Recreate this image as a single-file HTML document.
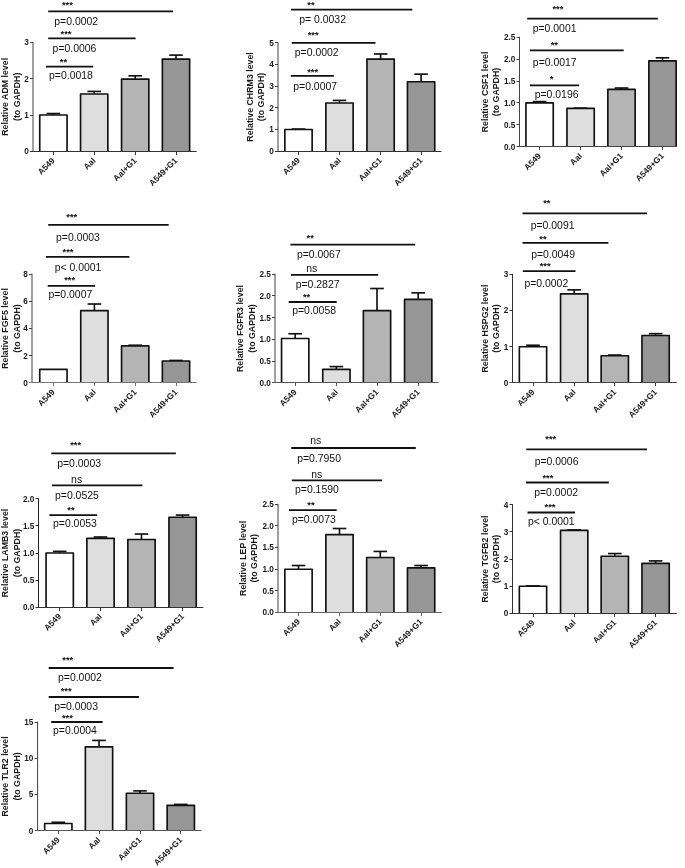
<!DOCTYPE html>
<html><head><meta charset="utf-8"><title>Relative expression levels</title>
<style>
html,body{margin:0;padding:0;background:#fff;}
body{width:685px;height:868px;overflow:hidden;}
svg{display:block;will-change:transform;}
text{font-family:"Liberation Sans",sans-serif;fill:#1a1a1a;}
.pv{font-size:10.45px;text-anchor:middle;fill:#111;}
.ns{font-size:10.45px;text-anchor:middle;fill:#111;}
.st{font-size:9.4px;font-weight:bold;text-anchor:middle;fill:#111;}
.tk{font-size:8.2px;font-weight:bold;text-anchor:end;}
.yl{font-size:8.8px;font-weight:bold;text-anchor:middle;}
.xl{font-size:8.4px;font-weight:bold;text-anchor:end;}
.cl{stroke:#111;stroke-width:1.8;}
.bar{stroke:#111;stroke-width:1.65;stroke-linejoin:round;}
.eb{stroke:#111;stroke-width:1.65;}
.ax{stroke-width:1;}
</style></head>
<body>
<svg width="685" height="868" viewBox="0 0 685 868">
<rect width="685" height="868" fill="#fff"/>
<line class="cl" x1="48.2" y1="11.4" x2="173.1" y2="11.4"/>
<text class="st" x="67.4" y="8.06">***</text>
<text class="pv" x="76.2" y="25.14">p=0.0002</text>
<line class="cl" x1="48.2" y1="38.4" x2="135.6" y2="38.4"/>
<text class="st" x="66" y="36.56">***</text>
<text class="pv" x="74.5" y="51.94">p=0.0006</text>
<line class="cl" x1="45.9" y1="66.7" x2="93.2" y2="66.7"/>
<text class="st" x="63.4" y="64.56">**</text>
<text class="pv" x="70.95" y="79.04">p=0.0018</text>
<line class="ax" stroke="#404040" stroke-width="1.3" x1="33" y1="151.5" x2="33" y2="41.9"/>
<text class="tk" x="28.8" y="154.24">0</text>
<line class="ax" stroke="#404040" x1="30" y1="115.5" x2="33" y2="115.5"/>
<text class="tk" x="28.8" y="117.94">1</text>
<line class="ax" stroke="#404040" x1="30" y1="78.5" x2="33" y2="78.5"/>
<text class="tk" x="28.8" y="81.64">2</text>
<line class="ax" stroke="#404040" x1="30" y1="42.5" x2="33" y2="42.5"/>
<text class="tk" x="28.8" y="45.34">3</text>
<line class="eb" x1="53.4" y1="115" x2="53.4" y2="113.55"/>
<line class="eb" x1="46.6" y1="113.55" x2="60.2" y2="113.55"/>
<path class="bar" fill="#ffffff" d="M39.75,151.5V115H67.05V151.5"/>
<line class="ax" stroke="#333" x1="53.5" y1="151.5" x2="53.5" y2="155"/>
<text class="xl" transform="translate(55.4,161.1) rotate(-45)">A549</text>
<line class="eb" x1="94.2" y1="93.95" x2="94.2" y2="91.41"/>
<line class="eb" x1="87.4" y1="91.41" x2="101" y2="91.41"/>
<path class="bar" fill="#dedede" d="M80.55,151.5V93.95H107.85V151.5"/>
<line class="ax" stroke="#333" x1="94.5" y1="151.5" x2="94.5" y2="155"/>
<text class="xl" transform="translate(96.2,161.1) rotate(-45)">AaI</text>
<line class="eb" x1="135.2" y1="79.06" x2="135.2" y2="75.8"/>
<line class="eb" x1="128.4" y1="75.8" x2="142" y2="75.8"/>
<path class="bar" fill="#b4b4b4" d="M121.55,151.5V79.06H148.85V151.5"/>
<line class="ax" stroke="#333" x1="135.5" y1="151.5" x2="135.5" y2="155"/>
<text class="xl" transform="translate(137.2,161.1) rotate(-45)">AaI+G1</text>
<line class="eb" x1="176" y1="59.1" x2="176" y2="55.11"/>
<line class="eb" x1="169.2" y1="55.11" x2="182.8" y2="55.11"/>
<path class="bar" fill="#969696" d="M162.35,151.5V59.1H189.65V151.5"/>
<line class="ax" stroke="#333" x1="176.5" y1="151.5" x2="176.5" y2="155"/>
<text class="xl" transform="translate(178,161.1) rotate(-45)">A549+G1</text>
<line class="ax" stroke="#333" x1="30" y1="151.5" x2="196.7" y2="151.5"/>
<text class="yl" transform="translate(8.07,96.85) rotate(-90)">Relative ADM level</text>
<text class="yl" transform="translate(20.14,96.85) rotate(-90)">(to GAPDH)</text>
<line class="cl" x1="291" y1="9.6" x2="412.3" y2="9.6"/>
<text class="st" x="311" y="7.76">**</text>
<text class="pv" x="322.6" y="23.04">p= 0.0032</text>
<line class="cl" x1="291.7" y1="42.9" x2="375.5" y2="42.9"/>
<text class="st" x="313.2" y="38.16">***</text>
<text class="pv" x="316.7" y="55.74">p=0.0002</text>
<line class="cl" x1="290.8" y1="75.9" x2="333.9" y2="75.9"/>
<text class="st" x="312.7" y="74.56">***</text>
<text class="pv" x="315.15" y="89.94">p=0.0007</text>
<line class="ax" stroke="#404040" stroke-width="1.3" x1="278" y1="151.5" x2="278" y2="42.2"/>
<text class="tk" x="273.8" y="154.14">0</text>
<line class="ax" stroke="#404040" x1="275" y1="129.5" x2="278" y2="129.5"/>
<text class="tk" x="273.8" y="132.44">1</text>
<line class="ax" stroke="#404040" x1="275" y1="107.5" x2="278" y2="107.5"/>
<text class="tk" x="273.8" y="110.74">2</text>
<line class="ax" stroke="#404040" x1="275" y1="86.5" x2="278" y2="86.5"/>
<text class="tk" x="273.8" y="89.04">3</text>
<line class="ax" stroke="#404040" x1="275" y1="64.5" x2="278" y2="64.5"/>
<text class="tk" x="273.8" y="67.34">4</text>
<line class="ax" stroke="#404040" x1="275" y1="42.5" x2="278" y2="42.5"/>
<text class="tk" x="273.8" y="45.64">5</text>
<line class="eb" x1="298.5" y1="129.5" x2="298.5" y2="129.07"/>
<line class="eb" x1="291.7" y1="129.07" x2="305.3" y2="129.07"/>
<path class="bar" fill="#ffffff" d="M284.85,151.5V129.5H312.15V151.5"/>
<line class="ax" stroke="#333" x1="298.5" y1="151.5" x2="298.5" y2="155"/>
<text class="xl" transform="translate(300.5,161) rotate(-45)">A549</text>
<line class="eb" x1="339.5" y1="103.03" x2="339.5" y2="100.42"/>
<line class="eb" x1="332.7" y1="100.42" x2="346.3" y2="100.42"/>
<path class="bar" fill="#dedede" d="M325.85,151.5V103.03H353.15V151.5"/>
<line class="ax" stroke="#333" x1="339.5" y1="151.5" x2="339.5" y2="155"/>
<text class="xl" transform="translate(341.5,161) rotate(-45)">AaI</text>
<line class="eb" x1="380.6" y1="59.19" x2="380.6" y2="53.98"/>
<line class="eb" x1="373.8" y1="53.98" x2="387.4" y2="53.98"/>
<path class="bar" fill="#b4b4b4" d="M366.95,151.5V59.19H394.25V151.5"/>
<line class="ax" stroke="#333" x1="380.5" y1="151.5" x2="380.5" y2="155"/>
<text class="xl" transform="translate(382.6,161) rotate(-45)">AaI+G1</text>
<line class="eb" x1="421.1" y1="81.76" x2="421.1" y2="74.16"/>
<line class="eb" x1="414.3" y1="74.16" x2="427.9" y2="74.16"/>
<path class="bar" fill="#969696" d="M407.45,151.5V81.76H434.75V151.5"/>
<line class="ax" stroke="#333" x1="421.5" y1="151.5" x2="421.5" y2="155"/>
<text class="xl" transform="translate(423.1,161) rotate(-45)">A549+G1</text>
<line class="ax" stroke="#333" x1="275" y1="151.5" x2="441.5" y2="151.5"/>
<text class="yl" transform="translate(252.77,96.95) rotate(-90)">Relative CHRM3 level</text>
<text class="yl" transform="translate(264.14,96.95) rotate(-90)">(to GAPDH)</text>
<line class="cl" x1="527.2" y1="18.7" x2="657.9" y2="18.7"/>
<text class="st" x="557.9" y="12.16">***</text>
<text class="pv" x="554.6" y="31.74">p=0.0001</text>
<line class="cl" x1="529.8" y1="50.3" x2="623.7" y2="50.3"/>
<text class="st" x="554.3" y="47.96">**</text>
<text class="pv" x="554.75" y="66.44">p=0.0017</text>
<line class="cl" x1="529.8" y1="85.3" x2="579.2" y2="85.3"/>
<text class="st" x="551.7" y="81.56">*</text>
<text class="pv" x="556.6" y="97.94">p=0.0196</text>
<line class="ax" stroke="#444" stroke-width="1.05" x1="519.5" y1="146.5" x2="519.5" y2="36.7"/>
<text class="tk" x="515.3" y="149.64">0.0</text>
<line class="ax" stroke="#444" x1="516.5" y1="124.5" x2="519.5" y2="124.5"/>
<text class="tk" x="515.3" y="127.74">0.5</text>
<line class="ax" stroke="#444" x1="516.5" y1="102.5" x2="519.5" y2="102.5"/>
<text class="tk" x="515.3" y="105.84">1.0</text>
<line class="ax" stroke="#444" x1="516.5" y1="81.5" x2="519.5" y2="81.5"/>
<text class="tk" x="515.3" y="83.94">1.5</text>
<line class="ax" stroke="#444" x1="516.5" y1="59.5" x2="519.5" y2="59.5"/>
<text class="tk" x="515.3" y="62.04">2.0</text>
<line class="ax" stroke="#444" x1="516.5" y1="37.5" x2="519.5" y2="37.5"/>
<text class="tk" x="515.3" y="40.14">2.5</text>
<line class="eb" x1="539.6" y1="102.9" x2="539.6" y2="101.59"/>
<line class="eb" x1="532.8" y1="101.59" x2="546.4" y2="101.59"/>
<path class="bar" fill="#ffffff" d="M525.95,146.5V102.9H553.25V146.5"/>
<line class="ax" stroke="#444" x1="539.5" y1="146.5" x2="539.5" y2="150"/>
<text class="xl" transform="translate(541.6,156.5) rotate(-45)">A549</text>
<line class="eb" x1="580.6" y1="108.42" x2="580.6" y2="108.16"/>
<line class="eb" x1="573.8" y1="108.16" x2="587.4" y2="108.16"/>
<path class="bar" fill="#dedede" d="M566.95,146.5V108.42H594.25V146.5"/>
<line class="ax" stroke="#444" x1="580.5" y1="146.5" x2="580.5" y2="150"/>
<text class="xl" transform="translate(582.6,156.5) rotate(-45)">AaI</text>
<line class="eb" x1="621.5" y1="89.32" x2="621.5" y2="88.01"/>
<line class="eb" x1="614.7" y1="88.01" x2="628.3" y2="88.01"/>
<path class="bar" fill="#b4b4b4" d="M607.85,146.5V89.32H635.15V146.5"/>
<line class="ax" stroke="#444" x1="621.5" y1="146.5" x2="621.5" y2="150"/>
<text class="xl" transform="translate(623.5,156.5) rotate(-45)">AaI+G1</text>
<line class="eb" x1="662.5" y1="60.85" x2="662.5" y2="57.79"/>
<line class="eb" x1="655.7" y1="57.79" x2="669.3" y2="57.79"/>
<path class="bar" fill="#969696" d="M648.85,146.5V60.85H676.15V146.5"/>
<line class="ax" stroke="#444" x1="662.5" y1="146.5" x2="662.5" y2="150"/>
<text class="xl" transform="translate(664.5,156.5) rotate(-45)">A549+G1</text>
<line class="ax" stroke="#444" x1="516.5" y1="146.5" x2="677" y2="146.5"/>
<text class="yl" transform="translate(487.77,91.95) rotate(-90)">Relative CSF1 level</text>
<text class="yl" transform="translate(499.14,91.95) rotate(-90)">(to GAPDH)</text>
<line class="cl" x1="48.2" y1="224.9" x2="168.7" y2="224.9"/>
<text class="st" x="71.8" y="219.96">***</text>
<text class="pv" x="77.95" y="240.54">p=0.0003</text>
<line class="cl" x1="45.9" y1="256.9" x2="129.4" y2="256.9"/>
<text class="st" x="68" y="255.06">***</text>
<text class="pv" x="78" y="270.64">p&lt; 0.0001</text>
<line class="cl" x1="47.7" y1="285.8" x2="95.1" y2="285.8"/>
<text class="st" x="69.7" y="282.56">***</text>
<text class="pv" x="70.35" y="298.34">p=0.0007</text>
<line class="ax" stroke="#404040" stroke-width="1.3" x1="32" y1="382.5" x2="32" y2="273.6"/>
<text class="tk" x="27.8" y="385.84">0</text>
<line class="ax" stroke="#404040" x1="29" y1="355.5" x2="32" y2="355.5"/>
<text class="tk" x="27.8" y="358.64">2</text>
<line class="ax" stroke="#404040" x1="29" y1="328.5" x2="32" y2="328.5"/>
<text class="tk" x="27.8" y="331.44">4</text>
<line class="ax" stroke="#404040" x1="29" y1="301.5" x2="32" y2="301.5"/>
<text class="tk" x="27.8" y="304.24">6</text>
<line class="ax" stroke="#404040" x1="29" y1="274.5" x2="32" y2="274.5"/>
<text class="tk" x="27.8" y="277.04">8</text>
<path class="bar" fill="#ffffff" d="M39.75,382.5V369.3H67.05V382.5"/>
<line class="ax" stroke="#777" x1="53.5" y1="382.5" x2="53.5" y2="386"/>
<text class="xl" transform="translate(55.4,392.7) rotate(-45)">A549</text>
<line class="eb" x1="94.4" y1="310.55" x2="94.4" y2="304.02"/>
<line class="eb" x1="87.6" y1="304.02" x2="101.2" y2="304.02"/>
<path class="bar" fill="#dedede" d="M80.75,382.5V310.55H108.05V382.5"/>
<line class="ax" stroke="#777" x1="94.5" y1="382.5" x2="94.5" y2="386"/>
<text class="xl" transform="translate(96.4,392.7) rotate(-45)">AaI</text>
<line class="eb" x1="135.2" y1="345.91" x2="135.2" y2="345.23"/>
<line class="eb" x1="128.4" y1="345.23" x2="142" y2="345.23"/>
<path class="bar" fill="#b4b4b4" d="M121.55,382.5V345.91H148.85V382.5"/>
<line class="ax" stroke="#777" x1="135.5" y1="382.5" x2="135.5" y2="386"/>
<text class="xl" transform="translate(137.2,392.7) rotate(-45)">AaI+G1</text>
<line class="eb" x1="176" y1="361" x2="176" y2="360.46"/>
<line class="eb" x1="169.2" y1="360.46" x2="182.8" y2="360.46"/>
<path class="bar" fill="#969696" d="M162.35,382.5V361H189.65V382.5"/>
<line class="ax" stroke="#777" x1="176.5" y1="382.5" x2="176.5" y2="386"/>
<text class="xl" transform="translate(178,392.7) rotate(-45)">A549+G1</text>
<line class="ax" stroke="#777" x1="29" y1="382.5" x2="196.7" y2="382.5"/>
<text class="yl" transform="translate(8.07,328.5) rotate(-90)">Relative FGF5 level</text>
<text class="yl" transform="translate(20.14,328.5) rotate(-90)">(to GAPDH)</text>
<line class="cl" x1="290.4" y1="244.7" x2="415.3" y2="244.7"/>
<text class="st" x="310.2" y="241.36">**</text>
<text class="pv" x="318.8" y="258.44">p=0.0067</text>
<line class="cl" x1="291" y1="274.8" x2="378.2" y2="274.8"/>
<text class="ns" x="311.8" y="272.22">ns</text>
<text class="pv" x="317.6" y="287.84">p=0.2827</text>
<line class="cl" x1="288.7" y1="302" x2="336.7" y2="302"/>
<text class="st" x="306.6" y="300.06">**</text>
<text class="pv" x="314.1" y="314.44">p=0.0058</text>
<line class="ax" stroke="#404040" stroke-width="1.3" x1="275" y1="382.5" x2="275" y2="273.65"/>
<text class="tk" x="270.8" y="385.84">0.0</text>
<line class="ax" stroke="#404040" x1="272" y1="361.5" x2="275" y2="361.5"/>
<text class="tk" x="270.8" y="364.09">0.5</text>
<line class="ax" stroke="#404040" x1="272" y1="339.5" x2="275" y2="339.5"/>
<text class="tk" x="270.8" y="342.34">1.0</text>
<line class="ax" stroke="#404040" x1="272" y1="317.5" x2="275" y2="317.5"/>
<text class="tk" x="270.8" y="320.59">1.5</text>
<line class="ax" stroke="#404040" x1="272" y1="295.5" x2="275" y2="295.5"/>
<text class="tk" x="270.8" y="298.84">2.0</text>
<line class="ax" stroke="#404040" x1="272" y1="274.5" x2="275" y2="274.5"/>
<text class="tk" x="270.8" y="277.09">2.5</text>
<line class="eb" x1="295.2" y1="338.53" x2="295.2" y2="333.75"/>
<line class="eb" x1="288.4" y1="333.75" x2="302" y2="333.75"/>
<path class="bar" fill="#ffffff" d="M281.55,382.5V338.53H308.85V382.5"/>
<line class="ax" stroke="#555" x1="295.5" y1="382.5" x2="295.5" y2="386"/>
<text class="xl" transform="translate(297.2,392.7) rotate(-45)">A549</text>
<line class="eb" x1="336.4" y1="369.41" x2="336.4" y2="366.59"/>
<line class="eb" x1="329.6" y1="366.59" x2="343.2" y2="366.59"/>
<path class="bar" fill="#dedede" d="M322.75,382.5V369.41H350.05V382.5"/>
<line class="ax" stroke="#555" x1="336.5" y1="382.5" x2="336.5" y2="386"/>
<text class="xl" transform="translate(338.4,392.7) rotate(-45)">AaI</text>
<line class="eb" x1="377" y1="310.69" x2="377" y2="288.5"/>
<line class="eb" x1="370.2" y1="288.5" x2="383.8" y2="288.5"/>
<path class="bar" fill="#b4b4b4" d="M363.35,382.5V310.69H390.65V382.5"/>
<line class="ax" stroke="#555" x1="377.5" y1="382.5" x2="377.5" y2="386"/>
<text class="xl" transform="translate(379,392.7) rotate(-45)">AaI+G1</text>
<line class="eb" x1="418.2" y1="299.38" x2="418.2" y2="292.86"/>
<line class="eb" x1="411.4" y1="292.86" x2="425" y2="292.86"/>
<path class="bar" fill="#969696" d="M404.55,382.5V299.38H431.85V382.5"/>
<line class="ax" stroke="#555" x1="418.5" y1="382.5" x2="418.5" y2="386"/>
<text class="xl" transform="translate(420.2,392.7) rotate(-45)">A549+G1</text>
<line class="ax" stroke="#555" x1="272" y1="382.5" x2="438.6" y2="382.5"/>
<text class="yl" transform="translate(242.77,328.52) rotate(-90)">Relative FGFR3 level</text>
<text class="yl" transform="translate(254.54,328.52) rotate(-90)">(to GAPDH)</text>
<line class="cl" x1="522.5" y1="213.3" x2="647" y2="213.3"/>
<text class="st" x="546.8" y="205.96">**</text>
<text class="pv" x="552.6" y="228.74">p=0.0091</text>
<line class="cl" x1="522.5" y1="242.9" x2="608.4" y2="242.9"/>
<text class="st" x="543" y="241.56">**</text>
<text class="pv" x="553.05" y="257.74">p=0.0049</text>
<line class="cl" x1="522.8" y1="271.1" x2="575.5" y2="271.1"/>
<text class="st" x="545.2" y="268.66">***</text>
<text class="pv" x="546.3" y="286.64">p=0.0002</text>
<line class="ax" stroke="#333" stroke-width="1.05" x1="512.5" y1="382.5" x2="512.5" y2="273.8"/>
<text class="tk" x="508.3" y="385.84">0</text>
<line class="ax" stroke="#333" x1="509.5" y1="346.5" x2="512.5" y2="346.5"/>
<text class="tk" x="508.3" y="349.64">1</text>
<line class="ax" stroke="#333" x1="509.5" y1="310.5" x2="512.5" y2="310.5"/>
<text class="tk" x="508.3" y="313.44">2</text>
<line class="ax" stroke="#333" x1="509.5" y1="274.5" x2="512.5" y2="274.5"/>
<text class="tk" x="508.3" y="277.24">3</text>
<line class="eb" x1="533" y1="346.7" x2="533" y2="345.25"/>
<line class="eb" x1="526.2" y1="345.25" x2="539.8" y2="345.25"/>
<path class="bar" fill="#ffffff" d="M519.35,382.5V346.7H546.65V382.5"/>
<line class="ax" stroke="#444" x1="533.5" y1="382.5" x2="533.5" y2="386"/>
<text class="xl" transform="translate(535,392.7) rotate(-45)">A549</text>
<line class="eb" x1="574.2" y1="293.85" x2="574.2" y2="289.87"/>
<line class="eb" x1="567.4" y1="289.87" x2="581" y2="289.87"/>
<path class="bar" fill="#dedede" d="M560.55,382.5V293.85H587.85V382.5"/>
<line class="ax" stroke="#444" x1="574.5" y1="382.5" x2="574.5" y2="386"/>
<text class="xl" transform="translate(576.2,392.7) rotate(-45)">AaI</text>
<line class="eb" x1="614.8" y1="355.75" x2="614.8" y2="355.03"/>
<line class="eb" x1="608" y1="355.03" x2="621.6" y2="355.03"/>
<path class="bar" fill="#b4b4b4" d="M601.15,382.5V355.75H628.45V382.5"/>
<line class="ax" stroke="#444" x1="614.5" y1="382.5" x2="614.5" y2="386"/>
<text class="xl" transform="translate(616.8,392.7) rotate(-45)">AaI+G1</text>
<line class="eb" x1="655.6" y1="335.48" x2="655.6" y2="333.67"/>
<line class="eb" x1="648.8" y1="333.67" x2="662.4" y2="333.67"/>
<path class="bar" fill="#969696" d="M641.95,382.5V335.48H669.25V382.5"/>
<line class="ax" stroke="#444" x1="655.5" y1="382.5" x2="655.5" y2="386"/>
<text class="xl" transform="translate(657.6,392.7) rotate(-45)">A549+G1</text>
<line class="ax" stroke="#444" x1="509.5" y1="382.5" x2="676.8" y2="382.5"/>
<text class="yl" transform="translate(487.77,328.6) rotate(-90)">Relative HSPG2 level</text>
<text class="yl" transform="translate(499.14,328.6) rotate(-90)">(to GAPDH)</text>
<line class="cl" x1="51.3" y1="453.3" x2="175.9" y2="453.3"/>
<text class="st" x="75.7" y="447.86">***</text>
<text class="pv" x="79.1" y="467.14">p=0.0003</text>
<line class="cl" x1="52" y1="485.3" x2="142.4" y2="485.3"/>
<text class="ns" x="76.6" y="483.12">ns</text>
<text class="pv" x="76.9" y="498.74">p=0.0525</text>
<line class="cl" x1="49.4" y1="515.1" x2="97.2" y2="515.1"/>
<text class="st" x="71" y="513.06">**</text>
<text class="pv" x="74.9" y="527.44">p=0.0053</text>
<line class="ax" stroke="#222" stroke-width="1.05" x1="38.5" y1="607.5" x2="38.5" y2="498.3"/>
<text class="tk" x="34.3" y="610.14">0.0</text>
<line class="ax" stroke="#222" x1="35.5" y1="580.5" x2="38.5" y2="580.5"/>
<text class="tk" x="34.3" y="583.04">0.5</text>
<line class="ax" stroke="#222" x1="35.5" y1="553.5" x2="38.5" y2="553.5"/>
<text class="tk" x="34.3" y="555.94">1.0</text>
<line class="ax" stroke="#222" x1="35.5" y1="525.5" x2="38.5" y2="525.5"/>
<text class="tk" x="34.3" y="528.84">1.5</text>
<line class="ax" stroke="#222" x1="35.5" y1="498.5" x2="38.5" y2="498.5"/>
<text class="tk" x="34.3" y="501.74">2.0</text>
<line class="eb" x1="59.7" y1="553" x2="59.7" y2="551.37"/>
<line class="eb" x1="52.9" y1="551.37" x2="66.5" y2="551.37"/>
<path class="bar" fill="#ffffff" d="M46.05,607.5V553H73.35V607.5"/>
<line class="ax" stroke="#333" x1="59.5" y1="607.5" x2="59.5" y2="611"/>
<text class="xl" transform="translate(61.7,617) rotate(-45)">A549</text>
<line class="eb" x1="100.5" y1="538.37" x2="100.5" y2="537.01"/>
<line class="eb" x1="93.7" y1="537.01" x2="107.3" y2="537.01"/>
<path class="bar" fill="#dedede" d="M86.85,607.5V538.37H114.15V607.5"/>
<line class="ax" stroke="#333" x1="100.5" y1="607.5" x2="100.5" y2="611"/>
<text class="xl" transform="translate(102.5,617) rotate(-45)">AaI</text>
<line class="eb" x1="141.5" y1="539.45" x2="141.5" y2="534.03"/>
<line class="eb" x1="134.7" y1="534.03" x2="148.3" y2="534.03"/>
<path class="bar" fill="#b4b4b4" d="M127.85,607.5V539.45H155.15V607.5"/>
<line class="ax" stroke="#333" x1="141.5" y1="607.5" x2="141.5" y2="611"/>
<text class="xl" transform="translate(143.5,617) rotate(-45)">AaI+G1</text>
<line class="eb" x1="182.6" y1="517.23" x2="182.6" y2="515.06"/>
<line class="eb" x1="175.8" y1="515.06" x2="189.4" y2="515.06"/>
<path class="bar" fill="#969696" d="M168.95,607.5V517.23H196.25V607.5"/>
<line class="ax" stroke="#333" x1="182.5" y1="607.5" x2="182.5" y2="611"/>
<text class="xl" transform="translate(184.6,617) rotate(-45)">A549+G1</text>
<line class="ax" stroke="#333" x1="35.5" y1="607.5" x2="203.4" y2="607.5"/>
<text class="yl" transform="translate(8.07,553) rotate(-90)">Relative LAMB3 level</text>
<text class="yl" transform="translate(19.64,553) rotate(-90)">(to GAPDH)</text>
<line class="cl" x1="291.3" y1="448" x2="415.8" y2="448"/>
<text class="ns" x="315.8" y="444.02">ns</text>
<text class="pv" x="319.05" y="461.94">p=0.7950</text>
<line class="cl" x1="291.8" y1="480.4" x2="382" y2="480.4"/>
<text class="ns" x="316.7" y="478.32">ns</text>
<text class="pv" x="316.9" y="493.34">p=0.1590</text>
<line class="cl" x1="289" y1="510.2" x2="336.7" y2="510.2"/>
<text class="st" x="310.9" y="508.26">**</text>
<text class="pv" x="313.85" y="522.74">p=0.0073</text>
<line class="ax" stroke="#404040" stroke-width="1.3" x1="278" y1="612.5" x2="278" y2="503.75"/>
<text class="tk" x="273.8" y="615.44">0.0</text>
<line class="ax" stroke="#404040" x1="275" y1="590.5" x2="278" y2="590.5"/>
<text class="tk" x="273.8" y="593.79">0.5</text>
<line class="ax" stroke="#404040" x1="275" y1="569.5" x2="278" y2="569.5"/>
<text class="tk" x="273.8" y="572.14">1.0</text>
<line class="ax" stroke="#404040" x1="275" y1="547.5" x2="278" y2="547.5"/>
<text class="tk" x="273.8" y="550.49">1.5</text>
<line class="ax" stroke="#404040" x1="275" y1="525.5" x2="278" y2="525.5"/>
<text class="tk" x="273.8" y="528.84">2.0</text>
<line class="ax" stroke="#404040" x1="275" y1="504.5" x2="278" y2="504.5"/>
<text class="tk" x="273.8" y="507.19">2.5</text>
<line class="eb" x1="298.5" y1="569.2" x2="298.5" y2="565.52"/>
<line class="eb" x1="291.7" y1="565.52" x2="305.3" y2="565.52"/>
<path class="bar" fill="#ffffff" d="M284.85,612.5V569.2H312.15V612.5"/>
<line class="ax" stroke="#666" x1="298.5" y1="612.5" x2="298.5" y2="616"/>
<text class="xl" transform="translate(300.5,622.3) rotate(-45)">A549</text>
<line class="eb" x1="339.5" y1="534.56" x2="339.5" y2="528.5"/>
<line class="eb" x1="332.7" y1="528.5" x2="346.3" y2="528.5"/>
<path class="bar" fill="#dedede" d="M325.85,612.5V534.56H353.15V612.5"/>
<line class="ax" stroke="#666" x1="339.5" y1="612.5" x2="339.5" y2="616"/>
<text class="xl" transform="translate(341.5,622.3) rotate(-45)">AaI</text>
<line class="eb" x1="380.3" y1="557.51" x2="380.3" y2="551.45"/>
<line class="eb" x1="373.5" y1="551.45" x2="387.1" y2="551.45"/>
<path class="bar" fill="#b4b4b4" d="M366.65,612.5V557.51H393.95V612.5"/>
<line class="ax" stroke="#666" x1="380.5" y1="612.5" x2="380.5" y2="616"/>
<text class="xl" transform="translate(382.3,622.3) rotate(-45)">AaI+G1</text>
<line class="eb" x1="421.1" y1="567.9" x2="421.1" y2="565.52"/>
<line class="eb" x1="414.3" y1="565.52" x2="427.9" y2="565.52"/>
<path class="bar" fill="#969696" d="M407.45,612.5V567.9H434.75V612.5"/>
<line class="ax" stroke="#666" x1="421.5" y1="612.5" x2="421.5" y2="616"/>
<text class="xl" transform="translate(423.1,622.3) rotate(-45)">A549+G1</text>
<line class="ax" stroke="#666" x1="275" y1="612.5" x2="441.8" y2="612.5"/>
<text class="yl" transform="translate(246.27,558.38) rotate(-90)">Relative LEP level</text>
<text class="yl" transform="translate(257.14,558.38) rotate(-90)">(to GAPDH)</text>
<line class="cl" x1="526.3" y1="449.4" x2="647" y2="449.4"/>
<text class="st" x="550.8" y="441.76">***</text>
<text class="pv" x="556.55" y="464.94">p=0.0006</text>
<line class="cl" x1="526" y1="482.5" x2="608.8" y2="482.5"/>
<text class="st" x="547.9" y="481.16">***</text>
<text class="pv" x="556.1" y="496.44">p=0.0002</text>
<line class="cl" x1="527.5" y1="512.5" x2="575" y2="512.5"/>
<text class="st" x="550" y="509.56">***</text>
<text class="pv" x="551.25" y="525.04">p&lt; 0.0001</text>
<line class="ax" stroke="#333" stroke-width="1.05" x1="512.5" y1="613.5" x2="512.5" y2="504.1"/>
<text class="tk" x="508.3" y="616.34">0</text>
<line class="ax" stroke="#333" x1="509.5" y1="586.5" x2="512.5" y2="586.5"/>
<text class="tk" x="508.3" y="589.14">1</text>
<line class="ax" stroke="#333" x1="509.5" y1="559.5" x2="512.5" y2="559.5"/>
<text class="tk" x="508.3" y="561.94">2</text>
<line class="ax" stroke="#333" x1="509.5" y1="531.5" x2="512.5" y2="531.5"/>
<text class="tk" x="508.3" y="534.74">3</text>
<line class="ax" stroke="#333" x1="509.5" y1="504.5" x2="512.5" y2="504.5"/>
<text class="tk" x="508.3" y="507.54">4</text>
<line class="eb" x1="533" y1="586.2" x2="533" y2="585.93"/>
<line class="eb" x1="526.2" y1="585.93" x2="539.8" y2="585.93"/>
<path class="bar" fill="#ffffff" d="M519.35,613.5V586.2H546.65V613.5"/>
<line class="ax" stroke="#333" x1="533.5" y1="613.5" x2="533.5" y2="617"/>
<text class="xl" transform="translate(535,623.2) rotate(-45)">A549</text>
<line class="eb" x1="574.2" y1="530.44" x2="574.2" y2="529.9"/>
<line class="eb" x1="567.4" y1="529.9" x2="581" y2="529.9"/>
<path class="bar" fill="#dedede" d="M560.55,613.5V530.44H587.85V613.5"/>
<line class="ax" stroke="#333" x1="574.5" y1="613.5" x2="574.5" y2="617"/>
<text class="xl" transform="translate(576.2,623.2) rotate(-45)">AaI</text>
<line class="eb" x1="614.8" y1="556.28" x2="614.8" y2="553.56"/>
<line class="eb" x1="608" y1="553.56" x2="621.6" y2="553.56"/>
<path class="bar" fill="#b4b4b4" d="M601.15,613.5V556.28H628.45V613.5"/>
<line class="ax" stroke="#333" x1="614.5" y1="613.5" x2="614.5" y2="617"/>
<text class="xl" transform="translate(616.8,623.2) rotate(-45)">AaI+G1</text>
<line class="eb" x1="655.6" y1="563.35" x2="655.6" y2="560.9"/>
<line class="eb" x1="648.8" y1="560.9" x2="662.4" y2="560.9"/>
<path class="bar" fill="#969696" d="M641.95,613.5V563.35H669.25V613.5"/>
<line class="ax" stroke="#333" x1="655.5" y1="613.5" x2="655.5" y2="617"/>
<text class="xl" transform="translate(657.6,623.2) rotate(-45)">A549+G1</text>
<line class="ax" stroke="#333" x1="509.5" y1="613.5" x2="676.8" y2="613.5"/>
<text class="yl" transform="translate(487.77,559) rotate(-90)">Relative TGFB2 level</text>
<text class="yl" transform="translate(499.14,559) rotate(-90)">(to GAPDH)</text>
<line class="cl" x1="48.7" y1="668" x2="173.6" y2="668"/>
<text class="st" x="67.8" y="662.96">***</text>
<text class="pv" x="79.9" y="680.54">p=0.0002</text>
<line class="cl" x1="48.7" y1="697" x2="138.9" y2="697"/>
<text class="st" x="66.2" y="693.56">***</text>
<text class="pv" x="76.05" y="709.94">p=0.0003</text>
<line class="cl" x1="51.2" y1="722" x2="102.6" y2="722"/>
<text class="st" x="67.4" y="721.16">***</text>
<text class="pv" x="74.9" y="733.94">p=0.0004</text>
<line class="ax" stroke="#404040" stroke-width="1.3" x1="37.6" y1="830.5" x2="37.6" y2="721.6"/>
<text class="tk" x="33.4" y="833.64">0</text>
<line class="ax" stroke="#404040" x1="34.6" y1="794.5" x2="37.6" y2="794.5"/>
<text class="tk" x="33.4" y="797.44">5</text>
<line class="ax" stroke="#404040" x1="34.6" y1="758.5" x2="37.6" y2="758.5"/>
<text class="tk" x="33.4" y="761.24">10</text>
<line class="ax" stroke="#404040" x1="34.6" y1="722.5" x2="37.6" y2="722.5"/>
<text class="tk" x="33.4" y="725.04">15</text>
<line class="eb" x1="58.3" y1="823.46" x2="58.3" y2="822.3"/>
<line class="eb" x1="51.5" y1="822.3" x2="65.1" y2="822.3"/>
<path class="bar" fill="#ffffff" d="M44.65,830.5V823.46H71.95V830.5"/>
<line class="ax" stroke="#555" x1="58.5" y1="830.5" x2="58.5" y2="834"/>
<text class="xl" transform="translate(60.3,840.5) rotate(-45)">A549</text>
<line class="eb" x1="99" y1="746.93" x2="99" y2="740.42"/>
<line class="eb" x1="92.2" y1="740.42" x2="105.8" y2="740.42"/>
<path class="bar" fill="#dedede" d="M85.35,830.5V746.93H112.65V830.5"/>
<line class="ax" stroke="#555" x1="99.5" y1="830.5" x2="99.5" y2="834"/>
<text class="xl" transform="translate(101,840.5) rotate(-45)">AaI</text>
<line class="eb" x1="140" y1="793.2" x2="140" y2="790.88"/>
<line class="eb" x1="133.2" y1="790.88" x2="146.8" y2="790.88"/>
<path class="bar" fill="#b4b4b4" d="M126.35,830.5V793.2H153.65V830.5"/>
<line class="ax" stroke="#555" x1="140.5" y1="830.5" x2="140.5" y2="834"/>
<text class="xl" transform="translate(142,840.5) rotate(-45)">AaI+G1</text>
<line class="eb" x1="180.8" y1="805.36" x2="180.8" y2="804.42"/>
<line class="eb" x1="174" y1="804.42" x2="187.6" y2="804.42"/>
<path class="bar" fill="#969696" d="M167.15,830.5V805.36H194.45V830.5"/>
<line class="ax" stroke="#555" x1="180.5" y1="830.5" x2="180.5" y2="834"/>
<text class="xl" transform="translate(182.8,840.5) rotate(-45)">A549+G1</text>
<line class="ax" stroke="#555" x1="34.6" y1="830.5" x2="201.6" y2="830.5"/>
<text class="yl" transform="translate(8.07,776.4) rotate(-90)">Relative TLR2 level</text>
<text class="yl" transform="translate(19.64,776.4) rotate(-90)">(to GAPDH)</text>
</svg>
</body></html>
